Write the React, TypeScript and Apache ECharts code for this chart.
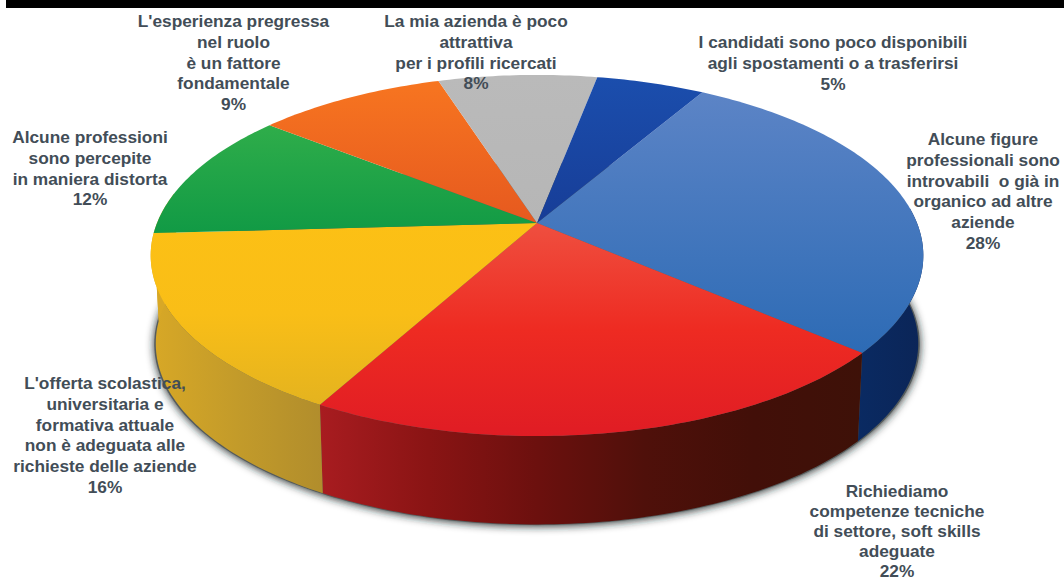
import React, { useEffect, useRef } from "react";
import * as echarts from "echarts";

const categories = [
  "Alcune figure\nprofessionali sono\nintrovabili  o già in\norganico ad altre\naziende",
  "Richiediamo\ncompetenze tecniche\ndi settore, soft skills\nadeguate",
  "L'offerta scolastica,\nuniversitaria e\nformativa attuale\nnon è adeguata alle\nrichieste delle aziende",
  "Alcune professioni\nsono percepite\nin maniera distorta",
  "L'esperienza pregressa\nnel ruolo\nè un fattore\nfondamentale",
  "La mia azienda è poco\nattrattiva\nper i profili ricercati",
  "I candidati sono poco disponibili\nagli spostamenti o a trasferirsi",
];
// Shares; the printed labels round them.
const shares = [28, 21.6, 16.1, 11.6, 9.4, 7.9, 5.4];

const topColors = [
  ["#5c84c6", "#2d6bb5"],
  ["#ef4f3f", "#ee2b22", "#e01c24"],
  ["#fcc015", "#f9be17", "#e4b31f"],
  ["#2fad4a", "#119a45"],
  ["#f77520", "#e6591f"],
  ["#bababa", "#b6b6b6"],
  ["#1b4ead", "#173d97"],
];
const wallColors = [
  ["#0a2a62", "#0b2557"],
  ["#a81c20", "#8a1414", "#6c100e", "#4f100a", "#420f08", "#3e1108"],
  ["#d8a826", "#c39b2a", "#b18d2c"],
  ["#d8a826", "#d8a826"],
  null,
  null,
  null,
];
const labelAnchors = [
  [983, 128.6],
  [897, 480.5],
  [105, 372.6],
  [90, 126.6],
  [233.5, 10.6],
  [476, 10.6],
  [833, 31.6],
];
const labelLineHeights = [20.8, 20, 20.8, 20.8, 20.8, 20.8, 20.8];

const START_DEG = -59.8;
const total = shares.reduce((a, b) => a + b, 0);
const edges: number[] = [START_DEG];
shares.forEach((s) => edges.push(edges[edges.length - 1] + (s / total) * 360));

const TOP = { cx: 537, cy: 223, a: 380, b: 174.7, k: 0.18 };
const BOTTOM = { cx: 537, cy: 311, a: 375, b: 175, k: 0.18 };
const SHADOW = { cx: 537, cy: 311.5, a: 376.5, b: 175.2, k: 0.18 };
type Plane = typeof TOP;

function project(p: Plane, deg: number): number[] {
  const r = (deg * Math.PI) / 180;
  const u = Math.cos(r);
  const v = Math.sin(r);
  const d = 1 - p.k * v;
  return [p.cx + (p.a * u) / d, p.cy + (p.b * v) / d];
}
function arc(p: Plane, from: number, to: number): number[][] {
  const n = Math.max(2, Math.ceil(Math.abs(to - from)));
  const pts: number[][] = [];
  for (let i = 0; i <= n; i++) pts.push(project(p, from + ((to - from) * i) / n));
  return pts;
}
function gradient(colors: string[], horizontal: boolean) {
  const stops = colors.map((color, i) => ({ offset: i / (colors.length - 1), color }));
  return new echarts.graphic.LinearGradient(0, 0, horizontal ? 1 : 0, horizontal ? 0 : 1, stops);
}

export default function App() {
  const ref = useRef<HTMLDivElement>(null);
  useEffect(() => {
    if (!ref.current) return;
    const chart = echarts.init(ref.current, undefined, { renderer: "svg" });
    chart.setOption({
      animation: false,
      backgroundColor: "#ffffff",
      series: [
        {
          type: "custom",
          coordinateSystem: "none",
          silent: true,
          data: [0],
          z: 1,
          renderItem: () => ({
            type: "polygon",
            shape: { points: arc(SHADOW, 0, 360) },
            style: {
              fill: "#555b5b",
              shadowColor: "rgba(25,35,35,0.95)",
              shadowBlur: 8,
              shadowOffsetX: 0,
              shadowOffsetY: 1,
            },
          }),
        },
        {
          type: "custom",
          coordinateSystem: "none",
          silent: true,
          data: shares,
          z: 2,
          renderItem: (params: any) => {
            const i = params.dataIndex;
            const colors = wallColors[i];
            if (!colors) return { type: "group", children: [] };
            const from = Math.max(edges[i], -5);
            const to = Math.min(edges[i + 1], 190);
            return {
              type: "polygon",
              shape: { points: [...arc(TOP, from, to), ...arc(BOTTOM, to, from)] },
              style: { fill: gradient(colors, true) },
            };
          },
        },
        {
          type: "custom",
          coordinateSystem: "none",
          silent: true,
          data: shares,
          z: 3,
          renderItem: (params: any) => {
            const i = params.dataIndex;
            return {
              type: "polygon",
              shape: { points: [[TOP.cx, TOP.cy], ...arc(TOP, edges[i], edges[i + 1])] },
              style: { fill: gradient(topColors[i], false) },
            };
          },
        },
      ],
      graphic: [
        {
          type: "rect",
          z: 20,
          shape: { x: 6, y: 0, width: 1058, height: 8 },
          style: { fill: "#000000" },
        },
        ...categories.map((c, i) => ({
          type: "text",
          z: 30,
          x: labelAnchors[i][0],
          y: labelAnchors[i][1],
          style: {
            text: `${c}\n${Math.round(shares[i])}%`,
            fill: "#424d57",
            font: 'bold 17.3px "Liberation Sans", Arial, sans-serif',
            lineHeight: labelLineHeights[i],
            align: "center",
            verticalAlign: "top",
          },
        })),
      ],
    });
    return () => chart.dispose();
  }, []);
  return (
    <div
      ref={ref}
      style={{ position: "absolute", left: 0, top: 0, width: 1064, height: 578 }}
    />
  );
}
